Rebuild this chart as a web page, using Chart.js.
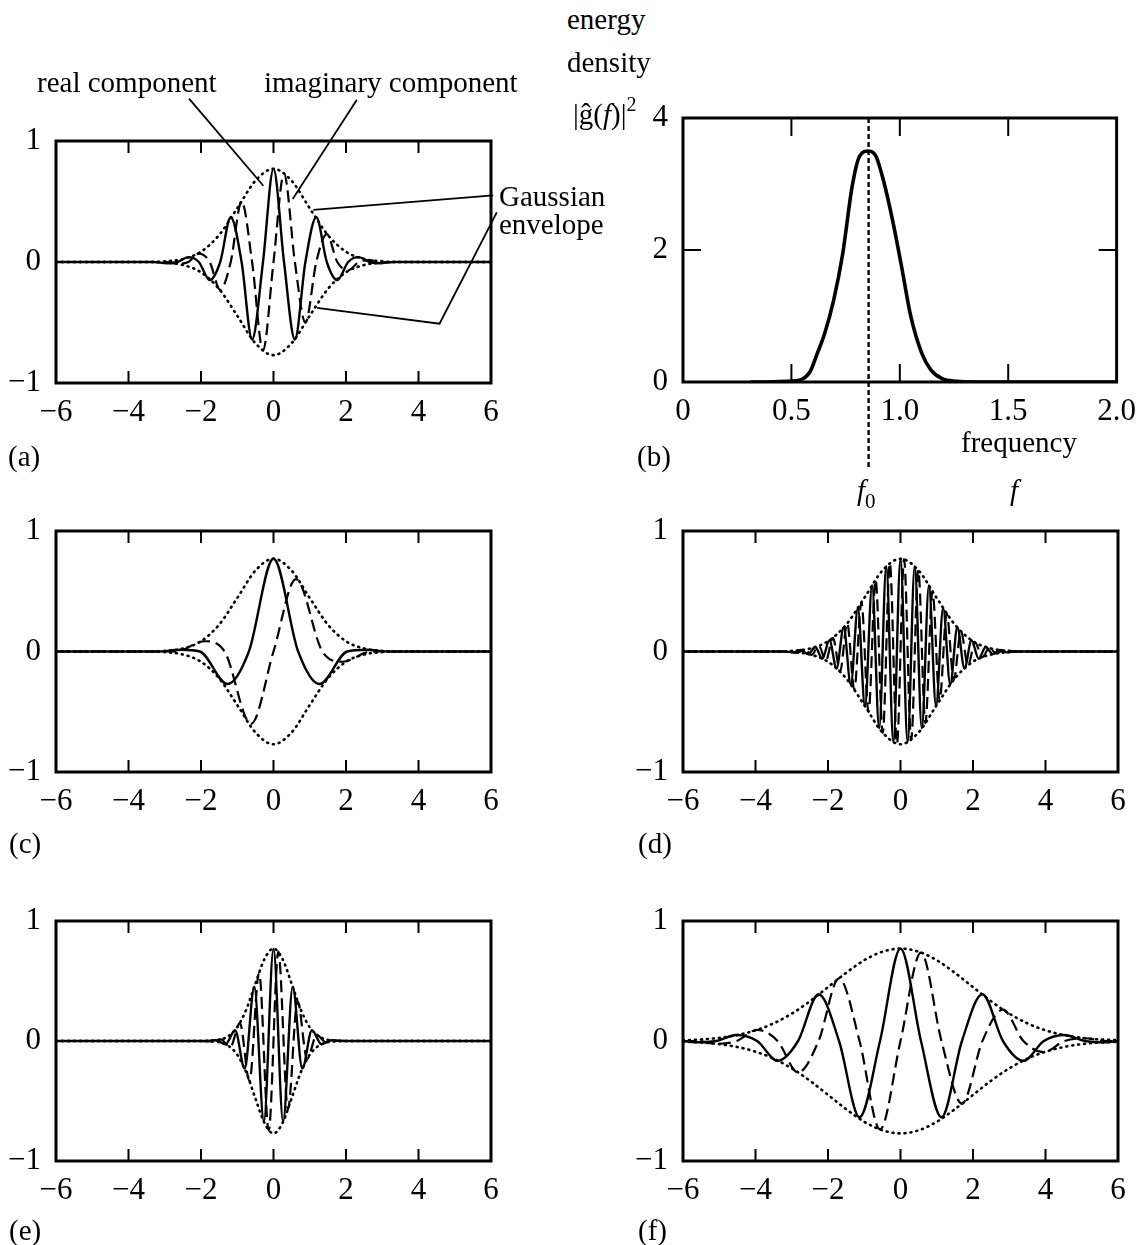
<!DOCTYPE html>
<html lang="en">
<head>
<meta charset="UTF-8">
<title>Gabor functions and energy density</title>
<script src="https://cdn.jsdelivr.net/npm/chart.js@4"></script>
<style>
  body { margin: 0; background: #fff; }
  #page { position: relative; width: 1139px; height: 1245px; overflow: hidden; font-family: "Liberation Serif", serif; color: #000; }
  canvas { position: absolute; }
  .txt { position: absolute; font-size: 29px; line-height: 29px; white-space: nowrap; }
  .sup { position: relative; top: -13px; font-size: 20px; }
  .sub { position: relative; top: 8px; font-size: 21px; }
</style>
</head>
<body>
<div id="page">
  <canvas id="chartA"></canvas>
  <canvas id="chartB"></canvas>
  <canvas id="chartC"></canvas>
  <canvas id="chartD"></canvas>
  <canvas id="chartE"></canvas>
  <canvas id="chartF"></canvas>

  <div class="txt" style="left:37px;top:68px">real component</div>
  <div class="txt" style="left:264px;top:68px">imaginary component</div>
  <div class="txt" style="left:499px;top:182px">Gaussian</div>
  <div class="txt" style="left:499px;top:210px">envelope</div>

  <div class="txt" style="left:567px;top:5px">energy</div>
  <div class="txt" style="left:567px;top:48px">density</div>
  <div class="txt" style="left:573px;top:100px">|ĝ(<i>f</i>)|<span class="sup">2</span></div>
  <div class="txt" style="left:961px;top:428px">frequency</div>
  <div class="txt" style="left:857px;top:476px"><i>f</i><span class="sub">0</span></div>
  <div class="txt" style="left:1010px;top:476px"><i>f</i></div>

  <div class="txt" style="left:8px;top:442px">(a)</div>
  <div class="txt" style="left:637px;top:442px">(b)</div>
  <div class="txt" style="left:9px;top:829px">(c)</div>
  <div class="txt" style="left:638px;top:829px">(d)</div>
  <div class="txt" style="left:9px;top:1216px">(e)</div>
  <div class="txt" style="left:638px;top:1216px">(f)</div>
</div>

<script>
// ---- data: [x, y] pairs ----

// Gaussian envelope shared by (a), (c), (d)
const envX = [-6, -3.5, -3, -2.5, -2, -1.5, -1, -0.5, 0, 0.5, 1, 1.5, 2, 2.5, 3, 3.5, 6];
const envY = [0, 0, 0.005, 0.025, 0.085, 0.223, 0.444, 0.671, 0.77, 0.671, 0.444, 0.223, 0.085, 0.025, 0.005, 0, 0];

// narrow envelope (e)
const envEX = [-6, -2, -1.75, -1.5, -1.25, -1, -0.75, -0.5, -0.25, 0, 0.25, 0.5, 0.75, 1, 1.25, 1.5, 1.75, 2, 6];
const envEY = [0, 0, 0.002, 0.01, 0.039, 0.114, 0.263, 0.478, 0.683, 0.77, 0.683, 0.478, 0.263, 0.114, 0.039, 0.01, 0.002, 0, 0];

// wide envelope (f)
const envFX = [-6, -5.5, -5, -4.5, -4, -3.5, -3, -2.5, -2, -1.5, -1, -0.5, 0, 0.5, 1, 1.5, 2, 2.5, 3, 3.5, 4, 4.5, 5, 5.5, 6];
const envFY = [0.006, 0.013, 0.026, 0.05, 0.089, 0.147, 0.228, 0.331, 0.449, 0.568, 0.673, 0.744, 0.77, 0.744, 0.673, 0.568, 0.449, 0.331, 0.228, 0.147, 0.089, 0.05, 0.026, 0.013, 0.006];

const aReal = [[-6, 0], [-3.3, 0], [-2.94, -0.01], [-2.65, 0], [-2.35, 0.04], [-2.06, 0], [-1.76, -0.15], [-1.47, 0],
  [-1.18, 0.37], [-0.88, 0], [-0.59, -0.64], [-0.29, 0], [0, 0.77], [0.29, 0], [0.59, -0.64], [0.88, 0], [1.18, 0.37],
  [1.47, 0], [1.76, -0.15], [2.06, 0], [2.35, 0.04], [2.65, 0], [2.94, -0.01], [3.3, 0], [6, 0]];
const aImag = [[-6, 0], [-3.3, 0], [-2.94, 0], [-2.65, -0.015], [-2.35, 0], [-2.06, 0.07], [-1.76, 0], [-1.47, -0.23],
  [-1.18, 0], [-0.88, 0.5], [-0.59, 0], [-0.29, -0.73], [0, 0], [0.29, 0.73], [0.59, 0], [0.88, -0.5], [1.18, 0],
  [1.47, 0.23], [1.76, 0], [2.06, -0.07], [2.35, 0], [2.65, 0.015], [2.94, 0], [3.3, 0], [6, 0]];

// energy density of (a) against frequency
const bSpec = [[0.31, 0], [0.517, 0.02], [0.585, 0.15], [0.619, 0.43], [0.653, 0.73], [0.695, 1.24], [0.737, 1.95],
  [0.78, 2.96], [0.814, 3.42], [0.856, 3.5], [0.89, 3.42], [0.924, 3.06], [0.966, 2.46], [1.008, 1.75], [1.051, 0.99],
  [1.102, 0.43], [1.144, 0.18], [1.195, 0.05], [1.263, 0.01], [1.35, 0], [2.0, 0]];
const bCentre = [[0.856, 4], [0.856, -1.3]];

const cReal = [[-6, 0], [-3.2, 0], [-2.55, 0.015], [-2.03, 0], [-1.27, -0.27], [-0.68, 0], [0, 0.77], [0.68, 0],
  [1.27, -0.27], [2.03, 0], [2.55, 0.015], [3.2, 0], [6, 0]];
const cImag = [[-6, 0], [-3.2, 0], [-2.7, 0], [-1.9, 0.085], [-1.35, 0], [-0.62, -0.6], [0, 0], [0.62, 0.6],
  [1.35, 0], [1.9, -0.085], [2.7, 0], [3.2, 0], [6, 0]];

const dReal = [[-6, 0], [-3.2, 0], [-2.94, -0.007], [-2.744, 0.012], [-2.548, -0.022], [-2.352, 0.037], [-2.156, -0.06],
  [-1.96, 0.093], [-1.764, -0.139], [-1.568, 0.199], [-1.372, -0.274], [-1.176, 0.36], [-0.98, -0.454], [-0.784, 0.549],
  [-0.588, -0.637], [-0.392, 0.708], [-0.196, -0.754], [0, 0.77], [0.196, -0.754], [0.392, 0.708], [0.588, -0.637],
  [0.784, 0.549], [0.98, -0.454], [1.176, 0.36], [1.372, -0.274], [1.568, 0.199], [1.764, -0.139], [1.96, 0.093],
  [2.156, -0.06], [2.352, 0.037], [2.548, -0.022], [2.744, 0.012], [2.94, -0.007], [3.2, 0], [6, 0]];
const dImag = [[-6, 0], [-3.2, 0], [-2.842, -0.009], [-2.646, 0.016], [-2.45, -0.028], [-2.254, 0.047], [-2.058, -0.075],
  [-1.862, 0.114], [-1.666, -0.167], [-1.47, 0.235], [-1.274, -0.315], [-1.078, 0.406], [-0.882, -0.502], [-0.686, 0.594],
  [-0.49, -0.675], [-0.294, 0.734], [-0.098, -0.766], [0.098, 0.766], [0.294, -0.734], [0.49, 0.675], [0.686, -0.594],
  [0.882, 0.502], [1.078, -0.406], [1.274, 0.315], [1.47, -0.235], [1.666, 0.167], [1.862, -0.114], [2.058, 0.075],
  [2.254, -0.047], [2.45, 0.028], [2.646, -0.016], [2.842, 0.009], [3.2, 0], [6, 0]];

const eReal = [[-6, 0], [-1.9, 0], [-1.59, 0.006], [-1.325, -0.027], [-1.06, 0.09], [-0.795, -0.23], [-0.53, 0.45],
  [-0.265, -0.67], [0, 0.77], [0.265, -0.67], [0.53, 0.45], [0.795, -0.23], [1.06, 0.09], [1.325, -0.027],
  [1.59, 0.006], [1.9, 0], [6, 0]];
const eImag = [[-6, 0], [-2, 0], [-1.723, -0.003], [-1.458, 0.013], [-1.193, -0.051], [-0.928, 0.149], [-0.663, -0.333],
  [-0.398, 0.569], [-0.133, -0.745], [0.133, 0.745], [0.398, -0.569], [0.663, 0.333], [0.928, -0.149], [1.193, 0.051],
  [1.458, -0.013], [1.723, 0.003], [2, 0], [6, 0]];

const fReal = [[-6, 0], [-5.65, -0.01], [-5.085, 0], [-4.52, 0.05], [-3.955, 0], [-3.39, -0.165], [-2.825, 0],
  [-2.26, 0.39], [-1.695, 0], [-1.13, -0.635], [-0.565, 0], [0, 0.77], [0.565, 0], [1.13, -0.635], [1.695, 0],
  [2.26, 0.39], [2.825, 0], [3.39, -0.165], [3.955, 0], [4.52, 0.05], [5.085, 0], [5.65, -0.01], [6, 0]];
const fImag = [[-6, 0], [-5.65, 0], [-5.085, -0.023], [-4.52, 0], [-3.955, 0.093], [-3.39, 0], [-2.825, -0.262],
  [-2.26, 0], [-1.695, 0.522], [-1.13, 0], [-0.565, -0.737], [0, 0], [0.565, 0.737], [1.13, 0], [1.695, -0.522],
  [2.26, 0], [2.825, 0.262], [3.39, 0], [3.955, -0.093], [4.52, 0], [5.085, 0.023], [5.65, 0], [6, 0]];

// leader lines from the labels of (a), in data units
const aPointers = [
  [[-2.33, 1.35], [-0.28, 0.63]],
  [[2.30, 1.34], [0.53, 0.52]],
  [[6.06, 0.55], [1.10, 0.43]],
  [[1.20, -0.38], [4.58, -0.51], [6.16, 0.41]]
];

const waveTicksX = [-6, -4, -2, 0, 2, 4, 6];
const waveTicksY = [-1, 0, 1];
const specTicksX = [0, 0.5, 1.0, 1.5, 2.0];
const specTicksY = [0, 2, 4];

// ---- helpers ----
Chart.defaults.font.family = '"Liberation Serif", serif';
Chart.defaults.font.size = 31;
Chart.defaults.color = '#000';

const pts = arr => arr.map(([x, y]) => ({ x, y }));
const envUp = (xs, ys) => xs.map((x, i) => ({ x, y: ys[i] }));
const envDown = (xs, ys) => xs.map((x, i) => ({ x, y: -ys[i] }));
const minus = v => String(v).replace('-', '\u2212');

function line(data, style) {
  return Object.assign({
    data, borderColor: '#000', borderWidth: 2.4, pointRadius: 0, fill: false,
    cubicInterpolationMode: 'monotone'
  }, style || {});
}

const SOLID = {};
const DASHED = { borderDash: [12, 6], borderWidth: 2.2 };
const DOTTED = { borderDash: [1, 5], borderCapStyle: 'round', borderWidth: 2.6 };

// box frame with inward tick marks on both sides
const framePlugin = {
  id: 'frame',
  afterDatasetsDraw(chart, args, opts) {
    const { ctx, chartArea: a, scales: { x, y } } = chart;
    ctx.save();
    ctx.strokeStyle = '#000';
    ctx.lineWidth = 3;
    ctx.strokeRect(a.left, a.top, a.right - a.left, a.bottom - a.top);
    ctx.lineWidth = 2;
    ctx.beginPath();
    x.ticks.forEach(t => {
      if (t.value <= x.min || t.value >= x.max) return;
      const px = x.getPixelForValue(t.value);
      ctx.moveTo(px, a.bottom); ctx.lineTo(px, a.bottom - opts.len);
      ctx.moveTo(px, a.top); ctx.lineTo(px, a.top + opts.len);
    });
    if (opts.yTicks) {
      y.ticks.forEach(t => {
        if (t.value <= y.min || t.value >= y.max) return;
        const py = y.getPixelForValue(t.value);
        ctx.moveTo(a.left, py); ctx.lineTo(a.left + opts.len, py);
        ctx.moveTo(a.right, py); ctx.lineTo(a.right - opts.len, py);
      });
    }
    ctx.stroke();
    ctx.restore();
  }
};

const pointerPlugin = {
  id: 'pointers',
  afterDraw(chart, args, opts) {
    if (!opts.paths) return;
    const { ctx, scales: { x, y } } = chart;
    ctx.save();
    ctx.strokeStyle = '#000';
    ctx.lineWidth = 1.8;
    opts.paths.forEach(path => {
      ctx.beginPath();
      path.forEach(([vx, vy], i) => {
        const px = x.getPixelForValue(vx), py = y.getPixelForValue(vy);
        if (i) ctx.lineTo(px, py); else ctx.moveTo(px, py);
      });
      ctx.stroke();
    });
    ctx.restore();
  }
};

// pos: canvas placement on the page, box: plot frame on the page
function panel(id, pos, box, cfg) {
  const cv = document.getElementById(id);
  cv.width = pos.w;
  cv.height = pos.h;
  cv.style.left = pos.x + 'px';
  cv.style.top = pos.y + 'px';

  new Chart(cv, {
    type: 'line',
    data: { datasets: cfg.datasets },
    options: {
      responsive: false,
      animation: false,
      devicePixelRatio: 1,
      layout: { padding: { left: 0, top: box.top - pos.y, right: pos.x + pos.w - box.right, bottom: 0 } },
      plugins: {
        legend: { display: false },
        tooltip: { enabled: false },
        frame: { len: cfg.tickLen, yTicks: cfg.yTicks },
        pointers: { paths: cfg.pointers }
      },
      scales: {
        x: {
          type: 'linear', min: cfg.xTicks[0], max: cfg.xTicks[cfg.xTicks.length - 1],
          grid: { display: false }, border: { display: false },
          afterBuildTicks: s => { s.ticks = cfg.xTicks.map(v => ({ value: v })); },
          ticks: { padding: 3, maxRotation: 0, autoSkip: false, callback: cfg.xLabel },
          afterFit: s => { s.height = pos.y + pos.h - box.bottom; }
        },
        y: {
          type: 'linear', min: cfg.yTicks0[0], max: cfg.yTicks0[cfg.yTicks0.length - 1],
          grid: { display: false }, border: { display: false },
          afterBuildTicks: s => { s.ticks = cfg.yTicks0.map(v => ({ value: v })); },
          ticks: { padding: 7, autoSkip: false, callback: minus },
          afterFit: s => { s.width = box.left - pos.x; }
        }
      }
    },
    plugins: [framePlugin, pointerPlugin]
  });
}

function wavePanel(id, pos, box, real, imag, ex, ey, extra) {
  panel(id, pos, box, Object.assign({
    xTicks: waveTicksX, yTicks0: waveTicksY, xLabel: minus, tickLen: 12, yTicks: false,
    datasets: [
      line(pts(real), SOLID),
      line(pts(imag), DASHED),
      line(envUp(ex, ey), DOTTED),
      line(envDown(ex, ey), DOTTED)
    ]
  }, extra || {}));
}

// ---- panels ----
wavePanel('chartA', { x: 0, y: 40, w: 560, h: 440 }, { left: 56, top: 141, right: 491, bottom: 383 },
  aReal, aImag, envX, envY, { pointers: aPointers });

panel('chartB', { x: 560, y: 40, w: 579, h: 460 }, { left: 683, top: 118, right: 1118, bottom: 382 }, {
  xTicks: specTicksX, yTicks0: specTicksY, tickLen: 18, yTicks: true,
  xLabel: v => (v === 0 ? '0' : v.toFixed(1)),
  datasets: [
    line(pts(bSpec), { borderWidth: 3.6 }),
    line(pts(bCentre), { borderDash: [5, 3], borderWidth: 2.4, cubicInterpolationMode: 'default', clip: false })
  ]
});

wavePanel('chartC', { x: 0, y: 500, w: 560, h: 370 }, { left: 56, top: 531, right: 491, bottom: 772 },
  cReal, cImag, envX, envY);
wavePanel('chartD', { x: 560, y: 500, w: 579, h: 370 }, { left: 683, top: 531, right: 1118, bottom: 772 },
  dReal, dImag, envX, envY);
wavePanel('chartE', { x: 0, y: 890, w: 560, h: 355 }, { left: 56, top: 921, right: 491, bottom: 1161 },
  eReal, eImag, envEX, envEY);
wavePanel('chartF', { x: 560, y: 890, w: 579, h: 355 }, { left: 683, top: 921, right: 1118, bottom: 1161 },
  fReal, fImag, envFX, envFY);
</script>
</body>
</html>
